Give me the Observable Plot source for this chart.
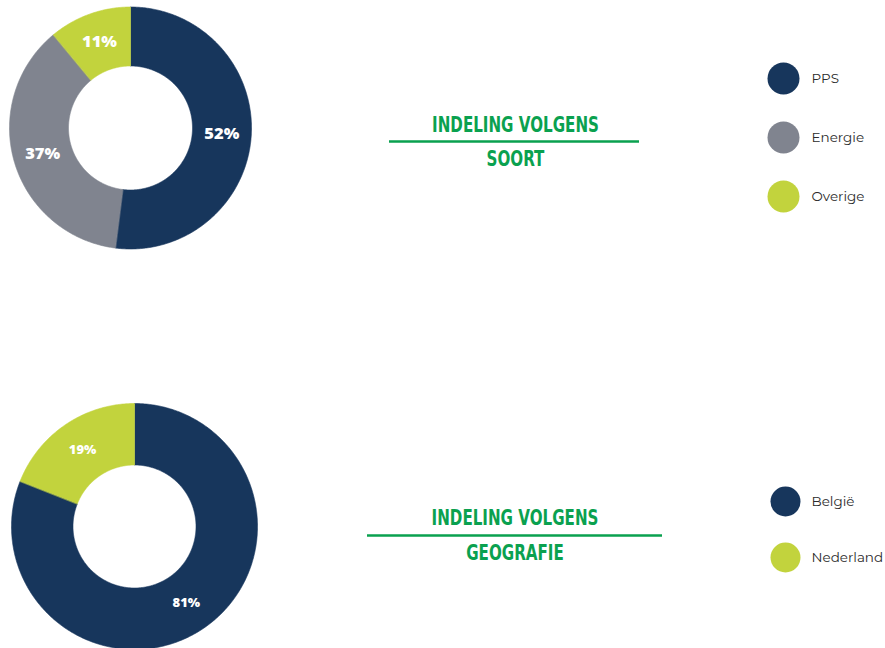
<!DOCTYPE html>
<html>
<head>
<meta charset="utf-8">
<script src="https://cdn.jsdelivr.net/npm/d3@7"></script>
<script src="https://cdn.jsdelivr.net/npm/@observablehq/plot@0.6"></script>
<style>
  html, body { margin: 0; padding: 0; background: #ffffff; }
  #chart svg { display: block; }
</style>
</head>
<body>
<div id="chart"></div>
<script>
// ---- Data ----
const soortCategories = ["PPS", "Energie", "Overige"];
const soortValues = [52, 37, 11];
const soortColors = ["#17365c", "#80848f", "#c2d33d"];

const geoCategories = ["België", "Nederland"];
const geoValues = [81, 19];
const geoColors = ["#17365c", "#c2d33d"];

const titleLine1 = "INDELING VOLGENS";
const soortTitle = "SOORT";
const geoTitle = "GEOGRAFIE";

// ---- Layout ----
const W = 885, H = 648;
const donuts = [
  {key: "soort", cats: soortCategories, vals: soortValues, colors: soortColors,
   cx: 130, cy: 127.5, R: 121, r: 62, labelSize: 16.5,
   titleX: 515, t1y: 124.5, lineY: 141, lx1: 389, lx2: 639, t2y: 158.5, title2: soortTitle,
   legX: 783, legY0: 78, legStep: 59, legR: 16, legTextX: 811},
  {key: "geo", cats: geoCategories, vals: geoValues, colors: geoColors,
   cx: 134, cy: 526, R: 123, r: 61.5, labelSize: 13,
   titleX: 514.5, t1y: 518, lineY: 535, lx1: 367, lx2: 662, t2y: 553, title2: geoTitle,
   legX: 785, legY0: 501, legStep: 56, legR: 15, legTextX: 811}
];

const slicePts = [];
const sliceLabels = [];
const legendDots = [];
const legendTexts = [];
const titleTexts = [];
const titleRules = [];

for (const d of donuts) {
  const arcs = d3.pie().sort(null)(d.vals);
  arcs.forEach((p, i) => {
    const id = d.key + i;
    const n = Math.max(12, Math.ceil((p.endAngle - p.startAngle) / 0.01));
    for (let k = 0; k <= n; k++) {
      const a = p.startAngle + (p.endAngle - p.startAngle) * k / n;
      slicePts.push({id, color: d.colors[i], x: d.cx + d.R * Math.sin(a), y: d.cy - d.R * Math.cos(a)});
    }
    for (let k = n; k >= 0; k--) {
      const a = p.startAngle + (p.endAngle - p.startAngle) * k / n;
      slicePts.push({id, color: d.colors[i], x: d.cx + d.r * Math.sin(a), y: d.cy - d.r * Math.cos(a)});
    }
    const mid = (p.startAngle + p.endAngle) / 2;
    const rm = (d.R + d.r) / 2;
    sliceLabels.push({x: d.cx + rm * Math.sin(mid), y: d.cy - rm * Math.cos(mid),
      text: d.vals[i] + "%", size: d.labelSize});
    legendDots.push({x: d.legX, y: d.legY0 + i * d.legStep, color: d.colors[i], r: d.legR});
    legendTexts.push({x: d.legTextX, y: d.legY0 + i * d.legStep, text: d.cats[i]});
  });
  titleTexts.push({x: d.titleX, y: d.t1y, text: titleLine1});
  titleTexts.push({x: d.titleX, y: d.t2y, text: d.title2});
  titleRules.push({y: d.lineY, x1: d.lx1, x2: d.lx2});
}

const green = "#0aa14f";
const titleFont = "'Liberation Sans Narrow', 'DejaVu Sans Condensed', 'Roboto Condensed', 'DejaVu Sans', sans-serif";
const titleCondense = 0.8; // horizontal compression for the condensed title face

const chart = Plot.plot({
  width: W,
  height: H,
  margin: 0,
  x: {domain: [0, W], range: [0, W], axis: null},
  y: {domain: [0, H], range: [0, H], axis: null},
  color: {type: "identity"},
  r: {type: "identity"},
  style: {background: "#ffffff"},
  marks: [
    Plot.line(slicePts, {x: "x", y: "y", z: "id", fill: "color", stroke: "color", strokeWidth: 0.6, curve: "linear-closed"}),
    Plot.text(sliceLabels.filter(d => d.size > 14), {x: "x", y: "y", text: "text", fill: "#ffffff",
      fontSize: 16.5, fontWeight: 800, fontFamily: "'Open Sans', 'Lato', sans-serif"}),
    Plot.text(sliceLabels.filter(d => d.size <= 14), {x: "x", y: "y", text: "text", fill: "#ffffff",
      fontSize: 13, fontWeight: 800, fontFamily: "'Open Sans', 'Lato', sans-serif"}),
    Plot.ruleY(titleRules, {y: "y", x1: "x1", x2: "x2", stroke: green, strokeWidth: 2.5}),
    Plot.text(titleTexts, {x: "x", y: "y", text: "text", fill: green, fontSize: 21, fontWeight: 700,
      fontFamily: titleFont}),
    Plot.dot(legendDots, {x: "x", y: "y", r: "r", fill: "color", stroke: null}),
    Plot.text(legendTexts, {x: "x", y: "y", text: "text", textAnchor: "start", fill: "#2b2b2b",
      fontSize: 13.5, fontFamily: "'Montserrat', 'Lato', 'Open Sans', sans-serif"})
  ]
});

document.getElementById("chart").appendChild(chart);

// condense the title glyphs horizontally (the reference uses a condensed face)
d3.select(chart).selectAll("text").each(function() {
  const t = this.textContent;
  if (titleTexts.some(d => d.text === t)) {
    const w = this.getComputedTextLength();
    this.setAttribute("textLength", (w * titleCondense).toFixed(1));
    this.setAttribute("lengthAdjust", "spacingAndGlyphs");
  }
});
</script>
</body>
</html>
